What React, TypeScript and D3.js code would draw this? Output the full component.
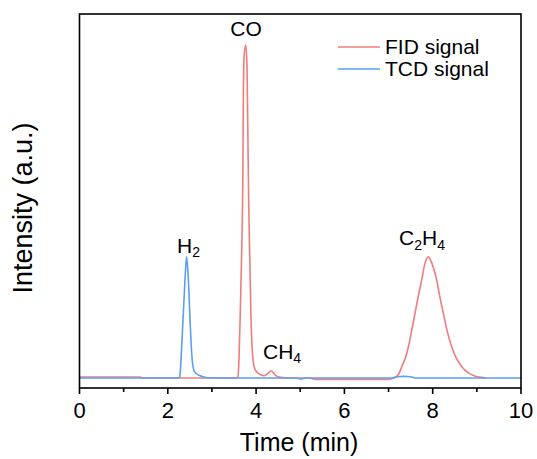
import React from "react";
import * as d3 from "d3";

// ---- data (time in min, intensity in arbitrary units, CO peak = 1) ----
const fidSignal: [number, number][] = [
  [0, 0.003], [0.7, 0.003], [1.38, 0.003], [1.42, 0], [2.2, 0], [2.8, 0.0], [3.4, 0], [3.55, 0],
  [3.59, 0.004], [3.61, 0.05], [3.635, 0.16], [3.66, 0.3], [3.685, 0.45], [3.70, 0.6],
  [3.712, 0.85], [3.73, 0.97], [3.765, 1.0], [3.795, 0.93], [3.812, 0.75], [3.83, 0.55],
  [3.85, 0.4], [3.885, 0.18], [3.91, 0.09], [3.935, 0.05], [3.97, 0.028], [4.03, 0.016],
  [4.1, 0.01], [4.18, 0.007], [4.25, 0.012], [4.3, 0.018], [4.34, 0.022], [4.39, 0.016],
  [4.45, 0.007], [4.55, 0.002], [4.8, 0], [5.2, 0], [5.35, -0.004], [6.2, -0.004],
  [7.0, -0.004], [7.1, -0.001], [7.16, 0.003], [7.23, 0.012], [7.30, 0.034], [7.38, 0.06],
  [7.45, 0.094], [7.52, 0.14], [7.60, 0.195], [7.68, 0.25], [7.75, 0.294], [7.82, 0.342],
  [7.90, 0.364], [7.98, 0.345], [8.09, 0.294], [8.16, 0.245], [8.24, 0.195], [8.33, 0.14],
  [8.43, 0.094], [8.54, 0.058], [8.66, 0.034], [8.8, 0.016], [8.95, 0.006], [9.1, 0.002],
  [9.2, 0.001],
];

const tcdSignal: [number, number][] = [
  [0, 0], [1.0, 0], [2.0, 0], [2.24, 0], [2.27, 0.003], [2.295, 0.045], [2.32, 0.11],
  [2.348, 0.184], [2.386, 0.285], [2.425, 0.364], [2.45, 0.33], [2.47, 0.285], [2.5, 0.184],
  [2.53, 0.1], [2.56, 0.045], [2.6, 0.02], [2.68, 0.01], [2.8, 0.004], [2.9, 0.001],
  [3.5, 0], [4.9, 0], [5.02, -0.003], [5.1, 0], [6.0, 0], [7.1, 0], [7.2, 0.004],
  [7.35, 0.005], [7.5, 0.004], [7.6, 0], [8.5, 0], [10, 0],
];

const xTicks = [0, 2, 4, 6, 8, 10];
const xMinorTicks = [1, 3, 5, 7, 9];
const xDomain: [number, number] = [0, 10];
const yDomain: [number, number] = [-0.03, 1.093];
const legendItems = ["FID signal", "TCD signal"];

const FONT = "'Liberation Sans', Arial, sans-serif";
const RED = "#f07c7c";
const BLUE = "#5a9ff0";

export default function App() {
  const left = 79.5, right = 521, top = 14, bottom = 388;
  const x = d3.scaleLinear().domain(xDomain).range([left, right]);
  const y = d3.scaleLinear().domain(yDomain).range([bottom, top]);
  const line = d3
    .line<[number, number]>()
    .x((d) => x(d[0]))
    .y((d) => y(d[1]))
    .curve(d3.curveMonotoneX);
  const colors = [RED, BLUE];

  return (
    <svg
      width={537}
      height={459}
      style={{ position: "absolute", left: 0, top: 0, background: "#fff" }}
      fontFamily={FONT}
    >
      <rect x={0} y={0} width={537} height={459} fill="#fff" />
      <path d={line(fidSignal) || ""} fill="none" stroke={RED} strokeWidth={1.6} />
      <path d={line(tcdSignal) || ""} fill="none" stroke={BLUE} strokeWidth={1.6} />

      {/* frame */}
      <rect x={left} y={top} width={right - left} height={bottom - top} fill="none" stroke="#000" strokeWidth={1.6} />

      {/* x ticks */}
      {xTicks.map((t) => (
        <g key={"M" + t}>
          <line x1={x(t)} x2={x(t)} y1={bottom} y2={bottom + 6} stroke="#000" strokeWidth={1.6} />
          <text x={x(t)} y={418} fontSize={22} textAnchor="middle" fill="#000">
            {t}
          </text>
        </g>
      ))}
      {xMinorTicks.map((t) => (
        <line key={"m" + t} x1={x(t)} x2={x(t)} y1={bottom} y2={bottom + 4} stroke="#000" strokeWidth={1.6} />
      ))}

      <text x={299} y={451} fontSize={25} textAnchor="middle" fill="#000">
        Time (min)
      </text>
      <text transform="translate(32,208) rotate(-90)" fontSize={27} textAnchor="middle" fill="#000">
        Intensity (a.u.)
      </text>

      {/* peak labels */}
      <text x={246} y={36} fontSize={21} textAnchor="middle" fill="#000">CO</text>
      <text x={177} y={252.5} fontSize={21} fill="#000">
        H<tspan fontSize={14} dy={4.5}>2</tspan>
      </text>
      <text x={263} y={358.5} fontSize={21} fill="#000">
        CH<tspan fontSize={14} dy={4.5}>4</tspan>
      </text>
      <text x={399} y={245} fontSize={21} fill="#000">
        C<tspan fontSize={14} dy={4.5}>2</tspan>
        <tspan dy={-4.5}>H</tspan>
        <tspan fontSize={14} dy={4.5}>4</tspan>
      </text>

      {/* legend */}
      {legendItems.map((name, i) => (
        <g key={name}>
          <line x1={338} x2={380} y1={47 + i * 22} y2={47 + i * 22} stroke={colors[i]} strokeWidth={1.6} />
          <text x={385} y={54 + i * 22} fontSize={21} fill="#000">
            {name}
          </text>
        </g>
      ))}
    </svg>
  );
}
